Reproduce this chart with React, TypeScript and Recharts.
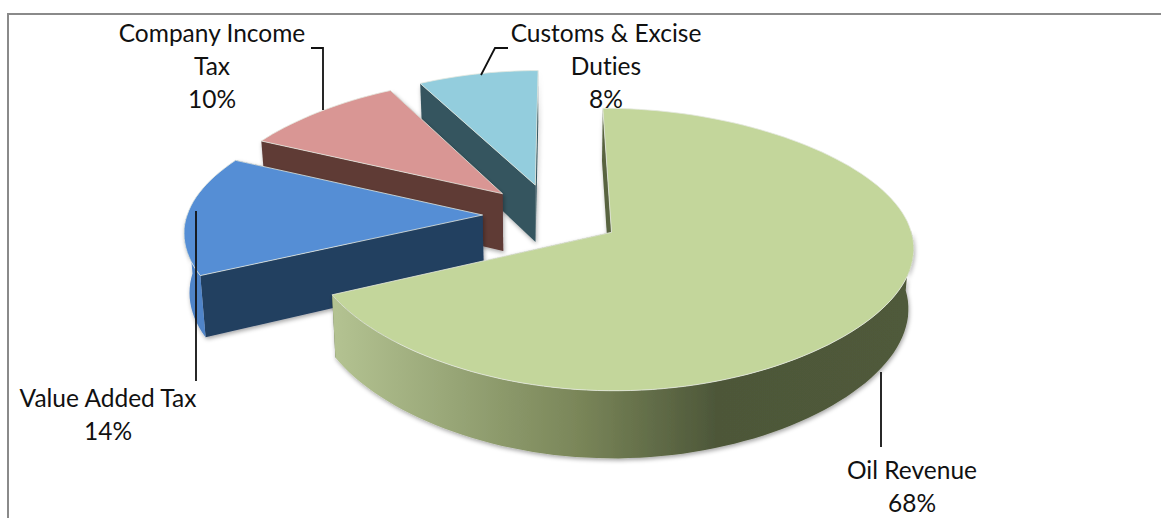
import { PieChart, Pie } from "recharts";

// Listed back to front, running counter-clockwise from twelve o'clock, so later slices paint over earlier ones.
const NAMES = ["Customs & Excise Duties", "Company Income Tax", "Value Added Tax", "Oil Revenue"];
const SHARES = [8, 10, 14, 68];
const LABEL_LINES = [["Customs & Excise", "Duties"], ["Company Income", "Tax"], ["Value Added Tax"], ["Oil Revenue"]];

const TOP_COLORS = ["#93cddd", "#d99694", "#558ed5", "#c3d69b"];
const WALL_COLORS = ["#35555f", "#5f3a36", "#243f60", "#586440"];
const RIM_COLORS = ["#6f9aa6", "#8f5f5c", "#4f84c8", "url(#oilRim)"];

const W = 1161;
const H = 518;
const CX = 552;
const CY = 215;
const RADIUS = 295.5;

// 3D look of the pie
const TILT = 135 / RADIUS;
const PERSPECTIVE = 0.12;
const PERSPECTIVE_X = 0.125;
const PERSPECTIVE_X2 = 0.06;
const EXPLODE = 0.235;
const DEPTH = 58.5;
const BASE_SHRINK = 0.985;

const LABEL_X = [606, 212, 108, 912];
const LABEL_Y = [42, 42, 407, 479];
const LEADERS = [
  "508,48 495,48 481,75",
  "311,48 323,48 323,110",
  "196,211 196,381",
  "881,372 881,447",
];

const data = NAMES.map((name, i) => ({ name, value: SHARES[i] }));

const rad = (deg: number) => (deg * Math.PI) / 180;

// ground-plane point (unit = pie radius) to screen, lifted or dropped by the slab depth
function project(gx: number, gy: number, base: boolean) {
  const w = 1 + PERSPECTIVE * gy;
  const wx = 1 + PERSPECTIVE_X * gy + PERSPECTIVE_X2 * gy * gy;
  const s = base ? BASE_SHRINK : 1;
  return [CX + (RADIUS * gx * s) / wx, CY - (RADIUS * TILT * gy) / w + (base ? DEPTH / w : 0)];
}

const toPath = (pts: number[][]) =>
  "M" + pts.map((p) => `${p[0].toFixed(1)},${p[1].toFixed(1)}`).join("L") + "Z";

function Slab(props: any) {
  const { startAngle, endAngle, index } = props;
  const mid = rad((startAngle + endAngle) / 2);
  const ox = EXPLODE * Math.cos(mid);
  const oy = EXPLODE * Math.sin(mid);

  const ground: number[][] = [];
  const front: number[][] = [];
  const steps = Math.ceil((endAngle - startAngle) / 2);
  for (let k = 0; k <= steps; k++) {
    const a = rad(startAngle + ((endAngle - startAngle) * k) / steps);
    const g = [ox + Math.cos(a), oy + Math.sin(a)];
    ground.push(g);
    // only the part of the rim that faces the viewer gets a wall
    if (Math.sin(a) < 0.03) front.push(g);
  }
  const first = ground[0];
  const last = ground[ground.length - 1];

  const topArc = ground.map((g) => project(g[0], g[1], false));
  const rimTop = front.map((g) => project(g[0], g[1], false));
  const rimBase = front.map((g) => project(g[0], g[1], true));
  const topApex = project(ox, oy, false);
  const baseApex = project(ox, oy, true);

  return (
    <g>
      <defs>
        <filter id={`soft${index}`} x="-5%" y="-5%" width="110%" height="115%">
          <feDropShadow dx="1" dy="2" stdDeviation="2" floodColor="#000" floodOpacity="0.35" />
        </filter>
        <linearGradient id="oilRim" gradientUnits="userSpaceOnUse" x1="336" y1="0" x2="912" y2="0">
          <stop offset="0" stopColor="#b3c291" />
          <stop offset="0.2" stopColor="#98a677" />
          <stop offset="0.42" stopColor="#7a8659" />
          <stop offset="0.66" stopColor="#4d5739" />
          <stop offset="1" stopColor="#505a3a" />
        </linearGradient>
      </defs>
      <g filter={`url(#soft${index})`}>
        <path
          d={toPath([topApex, project(first[0], first[1], false), project(first[0], first[1], true), baseApex])}
          fill={WALL_COLORS[index]}
        />
        <path
          d={toPath([topApex, project(last[0], last[1], false), project(last[0], last[1], true), baseApex])}
          fill={WALL_COLORS[index]}
        />
        {front.length > 1 && (
          <path d={toPath([...rimTop, ...[...rimBase].reverse()])} fill={RIM_COLORS[index]} />
        )}
      </g>
      <path d={toPath([topApex, ...topArc])} fill={TOP_COLORS[index]} stroke="#e4e8e0" strokeWidth={0.8} />
    </g>
  );
}

function SliceLabel(props: any) {
  const { index, value } = props;
  const lines = [...LABEL_LINES[index], `${value}%`];
  return (
    <g>
      <polyline points={LEADERS[index]} fill="none" stroke="#111" strokeWidth={1.8} />
      {lines.map((line: string, i: number) => (
        <text
          key={line}
          x={LABEL_X[index]}
          y={LABEL_Y[index] + i * 33}
          textAnchor="middle"
          fontFamily="Lato, sans-serif"
          fontSize={24.5}
          fill="#111"
          style={{ fontVariantLigatures: "none" }}
        >
          {line}
        </text>
      ))}
    </g>
  );
}

export default function App() {
  return (
    <div style={{ position: "absolute", left: 0, top: 0, width: W, height: H, overflow: "hidden", background: "#fff" }}>
      <div style={{ position: "absolute", left: 7, top: 13, width: W, height: H, borderLeft: "2px solid #8a8a8a", borderTop: "2px solid #8a8a8a" }} />
      <div style={{ position: "absolute", left: 0, top: 0 }}>
        <PieChart width={W} height={H} margin={{ top: 0, right: 0, bottom: 0, left: 0 }}>
          <Pie
            data={data}
            dataKey="value"
            nameKey="name"
            cx={CX}
            cy={CY}
            outerRadius={RADIUS}
            startAngle={90}
            endAngle={450}
            stroke="none"
            shape={Slab}
            label={SliceLabel}
            labelLine={false}
            isAnimationActive={false}
          />
        </PieChart>
      </div>
    </div>
  );
}
